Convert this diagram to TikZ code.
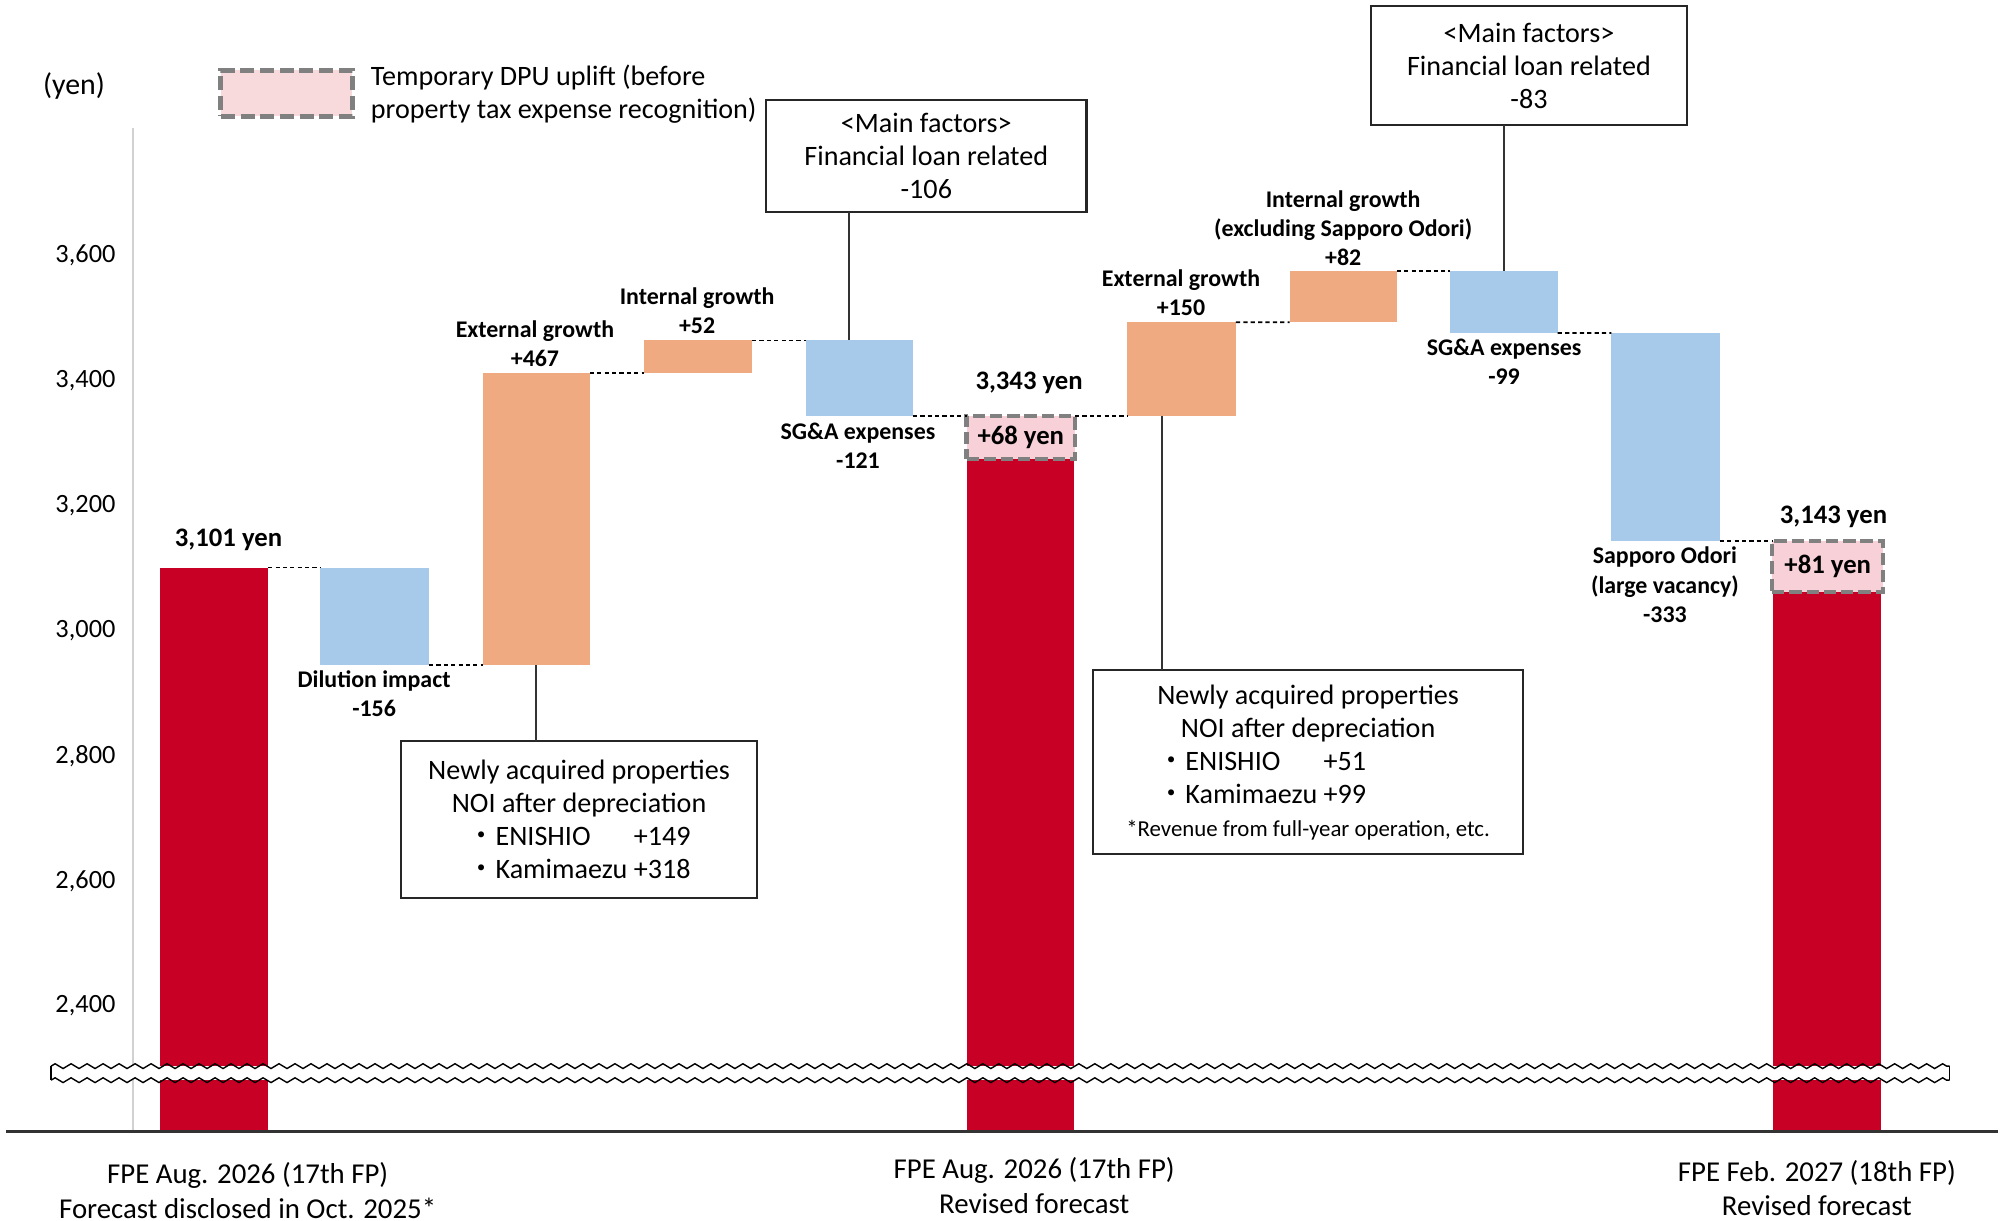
\documentclass[tikz,border=0pt]{standalone}
\usepackage{xcolor}
\usepackage{tikz}
\usepackage{calc}
\usepackage{fontspec}
\setmainfont{Carlito}
\newfontfamily\cjk{Noto Sans CJK JP}
\usetikzlibrary{fit,decorations.pathmorphing}

\definecolor{barred}{RGB}{200,0,38}
\definecolor{barorange}{RGB}{240,170,130}
\definecolor{barblue}{RGB}{167,201,234}
\definecolor{barpink}{RGB}{247,208,216}
\definecolor{legpink}{RGB}{248,218,220}
\definecolor{dashgray}{RGB}{128,128,128}

\begin{document}
\begin{tikzpicture}[x=0.012768cm, y=-0.012768cm,
  bar/.style={inner sep=0pt, outer sep=0pt},
  redbar/.style={bar, fill=barred},
  orangebar/.style={bar, fill=barorange},
  bluebar/.style={bar, fill=barblue},
  uplift/.style={bar, fill=barpink, draw=dashgray, line width=1.2pt, dash pattern=on 3.5pt off 1.4pt},
  link/.style={line width=0.5pt, dash pattern=on 1.2pt off 0.9pt},
  callout/.style={draw=black!80, line width=0.5pt},
  factbox/.style={draw=black!85, line width=0.6pt, inner sep=0pt, outer sep=0pt, align=center, font=\fontsize{8}{9.4}\selectfont},
  lbl/.style={align=center, inner sep=0pt, font=\bfseries\fontsize{6.8}{8.3}\selectfont},
  val/.style={inner sep=0pt, font=\bfseries\fontsize{7.6}{9}\selectfont},
  tick/.style={anchor=east, inner sep=0pt, font=\fontsize{7.5}{9}\selectfont},
  cat/.style={align=center, inner sep=0pt, font=\fontsize{8.2}{9.8}\selectfont}]
  \useasboundingbox (0,0) rectangle (1568,956);

  % Ejes
  \draw[black!18, line width=0.6pt] (104,100) -- (104,886);
  \node[tick] (y3600) at (91,200) {3,600};
  \node[tick] (y3400) at (91,298) {3,400};
  \node[tick] (y3200) at (91,396) {3,200};
  \node[tick] (y3000) at (91,494) {3,000};
  \node[tick] (y2800) at (91,592) {2,800};
  \node[tick] (y2600) at (91,690) {2,600};
  \node[tick] (y2400) at (91,788) {2,400};
  \node[font=\fontsize{8.5}{10}\selectfont] (unit) at (58,67) {(yen)};

  % Barras
  \node[redbar, fit={(125,444.5) (210,886)}] (b1) {};       % 3,101
  \node[bluebar, fit={(251,444.5) (336,521)}] (b2) {};      % dilucion
  \node[orangebar, fit={(378,292) (462,521)}] (b3) {};      % externo
  \node[orangebar, fit={(504,266.6) (589,292)}] (b4) {};    % interno
  \node[bluebar, fit={(631,266.6) (715,326)}] (b5) {};      % SG&A
  \node[redbar, fit={(757,359.3) (841,886)}] (b6) {};       % 3,343
  \node[uplift, fit={(757,326) (842,359.3)}] (p1) {};       % +68
  \node[orangebar, fit={(883,252.4) (968,326)}] (b7) {};    % externo
  \node[orangebar, fit={(1010,212.3) (1094,252.4)}] (b8) {};% interno
  \node[bluebar, fit={(1136,212.3) (1220,260.8)}] (b9) {};  % SG&A
  \node[bluebar, fit={(1262,260.8) (1347,424)}] (b10) {};   % Sapporo Odori
  \node[redbar, fit={(1389,463.6) (1473,886)}] (b11) {};    % 3,143
  \node[uplift, fit={(1388,424) (1475,463.6)}] (p2) {};     % +81

  % Corte del eje
  \fill[white] (40,835) rectangle (1527,846);
  \draw[line width=0.4pt, decorate, decoration={zigzag, segment length=0.16cm, amplitude=0.024cm}] (40,835) -- (1527,835);
  \draw[line width=0.4pt, decorate, decoration={zigzag, segment length=0.16cm, amplitude=0.024cm}] (40,846) -- (1527,846);
  \draw[line width=0.4pt] (40,835) -- (40,846);
  \draw[line width=0.4pt] (1527,835) -- (1527,846);
  \draw[black!80, line width=1pt] (5,886) -- (1565,886);

  % Conectores
  \draw[link] (b1.north east) -- (b2.north west);
  \draw[link] (b2.south east) -- (b3.south west);
  \draw[link] (b3.north east) -- (b4.south west);
  \draw[link] (b4.north east) -- (b5.north west);
  \draw[link] (b5.south east) -- (p1.north west);
  \draw[link] (p1.north east) -- (b7.south west);
  \draw[link] (b7.north east) -- (b8.south west);
  \draw[link] (b8.north east) -- (b9.north west);
  \draw[link] (b9.south east) -- (b10.north west);
  \draw[link] (b10.south east) -- (p2.north west);

  % Etiquetas
  \node[val] (v1) at (179,423) {3,101 yen};
  \node[lbl] (l2) at (293,543) {Dilution impact\\-156};
  \node[lbl] (l3) at (419,269.5) {External growth\\+467};
  \node[lbl] (l4) at (546,243.5) {Internal growth\\+52};
  \node[lbl] (l5) at (672,349) {SG\&A expenses\\-121};
  \node[val] (v6) at (806,300) {3,343 yen};
  \node[val] (v7) at (p1.center) {+68 yen};
  \node[lbl] (l7) at (925,229.5) {External growth\\+150};
  \node[lbl] (l8) at (1052,178.5) {Internal growth\\(excluding Sapporo Odori)\\+82};
  \node[lbl] (l9) at (1178,283.5) {SG\&A expenses\\-99};
  \node[lbl] (l10) at (1304,458) {Sapporo Odori\\(large vacancy)\\-333};
  \node[val] (v11) at (1436,405) {3,143 yen};
  \node[val] (v12) at (p2.center) {+81 yen};

  % Leyenda
  \node[bar, fill=legpink, draw=dashgray, line width=1.4pt, dash pattern=on 4pt off 1.6pt, fit={(173,55) (276,91)}] (lg) {};
  \node[anchor=west, align=left, inner sep=0pt, font=\fontsize{8}{9.4}\selectfont] (lgt) at (290,74) {Temporary DPU uplift (before\\property tax expense recognition)};

  % Cuadros
  \node[factbox, minimum width=3.205cm, minimum height=1.124cm] (f1) at (725.5,122) {<Main factors>\\Financial loan related\\-106};
  \node[factbox, minimum width=3.154cm, minimum height=1.187cm] (f2) at (1197.5,51.5) {<Main factors>\\Financial loan related\\-83};
  \node[factbox, minimum width=3.562cm, minimum height=1.570cm] (n1) at (453.5,641.5) {Newly acquired properties\\NOI after depreciation\\{\cjk ・}\makebox[\widthof{Kamimaezu}][l]{ENISHIO} +149\\{\cjk ・}Kamimaezu +318};
  \node[factbox, minimum width=4.303cm, minimum height=1.839cm] (n2) at (1024.5,597) {Newly acquired properties\\NOI after depreciation\\\makebox[\widthof{Newly acquired properties}][l]{{\cjk ・}\makebox[\widthof{Kamimaezu}][l]{ENISHIO} +51}\\\makebox[\widthof{Newly acquired properties}][l]{{\cjk ・}Kamimaezu +99}\\{\fontsize{6.5}{8}\selectfont *Revenue from full-year operation, etc.}};

  % Lineas a los cuadros
  \path ([xshift=-1mm]b5.north) coordinate (c5);
  \draw[callout] (f1.south -| c5) -- (c5);
  \draw[callout] (f2.south -| b9.north) -- (b9.north);
  \draw[callout] (b3.south) -- (n1.north -| b3.south);
  \path ([xshift=-2mm]b7.south) coordinate (c7);
  \draw[callout] (c7) -- (c7 |- n2.north);

  % Categorias
  \node[cat] (c1) at (194,932.5) {FPE Aug. 2026 (17th FP)\\Forecast disclosed in Oct. 2025*};
  \node[cat] (c2) at (810,928.5) {FPE Aug. 2026 (17th FP)\\Revised forecast};
  \node[cat] (c3) at (1423,930.5) {FPE Feb. 2027 (18th FP)\\Revised forecast};
\end{tikzpicture}
\end{document}
